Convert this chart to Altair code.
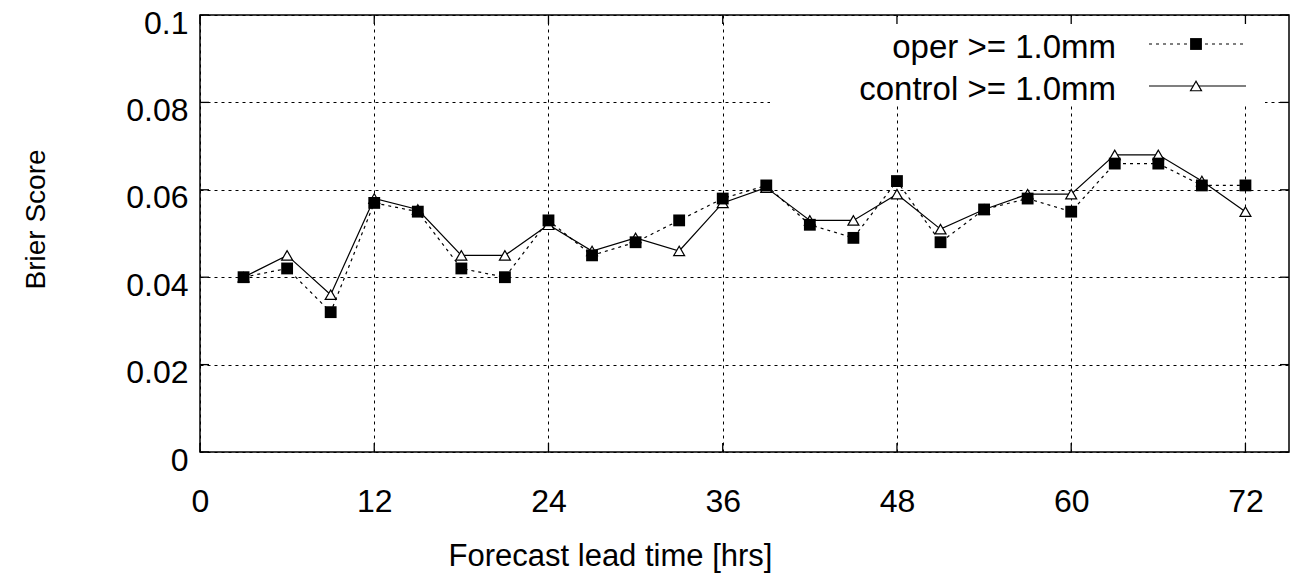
import altair as alt
import pandas as pd

# ---- data ----
lead_time = [3, 6, 9, 12, 15, 18, 21, 24, 27, 30, 33, 36,
             39, 42, 45, 48, 51, 54, 57, 60, 63, 66, 69, 72]
oper = [0.040, 0.042, 0.032, 0.057, 0.055, 0.042, 0.040, 0.053, 0.045, 0.048, 0.053, 0.058,
        0.061, 0.052, 0.049, 0.062, 0.048, 0.0555, 0.058, 0.055, 0.066, 0.066, 0.061, 0.061]
control = [0.040, 0.045, 0.036, 0.058, 0.0555, 0.045, 0.045, 0.052, 0.046, 0.049, 0.046, 0.057,
           0.0605, 0.053, 0.053, 0.059, 0.051, 0.0555, 0.059, 0.059, 0.068, 0.068, 0.062, 0.055]
series_labels = ["oper >= 1.0mm", "control >= 1.0mm"]
x_ticks = [0, 12, 24, 36, 48, 60, 72]
y_ticks = [0, 0.02, 0.04, 0.06, 0.08, 0.1]

W, H = 1089, 437
FONT = "Liberation Sans"
FS = 32

df_oper = pd.DataFrame({"t": lead_time, "v": oper})
df_ctrl = pd.DataFrame({"t": lead_time, "v": control})
df_xt = pd.DataFrame({"t": x_ticks})
df_yt = pd.DataFrame({"v": y_ticks})

xscale = alt.Scale(domain=[0, 75], nice=False, zero=False)
yscale = alt.Scale(domain=[0, 0.1], nice=False)

xaxis = alt.Axis(values=x_ticks, title="Forecast lead time [hrs]", grid=True,
                 gridDash=[3, 4], gridColor="black", gridOpacity=1, gridWidth=1,
                 ticks=False, domain=False, labelFont=FONT, labelFontSize=FS,
                 labelColor="black", labelPadding=34, labelFlush=False,
                 titleFont=FONT, titleFontSize=31, titleFontWeight="normal",
                 titleColor="black", titleX=410, titleY=104, titleAlign="center",
                 titleBaseline="middle")
yaxis = alt.Axis(values=y_ticks, title="Brier Score", grid=True, format="~g",
                 gridDash=[3, 4], gridColor="black", gridOpacity=1, gridWidth=1,
                 ticks=False, domain=False, labelFont=FONT, labelFontSize=FS,
                 labelColor="black", labelPadding=12, labelOffset=8, labelFlush=False,
                 titleFont=FONT, titleFontSize=28, titleFontWeight="normal",
                 titleColor="black", titleX=-164, titleY=204, titleAlign="center",
                 titleBaseline="middle")

X = alt.X("t:Q", scale=xscale, axis=xaxis)
Y = alt.Y("v:Q", scale=yscale, axis=yaxis)

# legend white box (hides grid lines behind the key)
key_box = alt.Chart(pd.DataFrame({"a": [0]})).mark_rect(fill="white").encode(
    x=alt.value(570), x2=alt.value(1065), y=alt.value(2), y2=alt.value(89))

# inward ticks
tick_style = dict(color="black", strokeWidth=1.3)
xt_bottom = alt.Chart(df_xt).mark_rule(**tick_style).encode(
    x=alt.X("t:Q", scale=xscale), y=alt.value(H), y2=alt.value(H - 9))
xt_top = alt.Chart(df_xt).mark_rule(**tick_style).encode(
    x=alt.X("t:Q", scale=xscale), y=alt.value(0), y2=alt.value(9))
yt_left = alt.Chart(df_yt).mark_rule(**tick_style).encode(
    y=alt.Y("v:Q", scale=yscale), x=alt.value(0), x2=alt.value(9))
yt_right = alt.Chart(df_yt).mark_rule(**tick_style).encode(
    y=alt.Y("v:Q", scale=yscale), x=alt.value(W - 9), x2=alt.value(W))

ctrl_line = alt.Chart(df_ctrl).mark_line(color="black", strokeWidth=1.2).encode(x=X, y=Y)
ctrl_pts = alt.Chart(df_ctrl).mark_point(shape="triangle-up", filled=True, fill="white",
                                         stroke="black", strokeWidth=1.2, size=120,
                                         opacity=1).encode(x=X, y=Y)
oper_line = alt.Chart(df_oper).mark_line(color="black", strokeWidth=1.2,
                                         strokeDash=[3, 4]).encode(x=X, y=Y)
oper_pts = alt.Chart(df_oper).mark_square(color="black", size=140, opacity=1).encode(x=X, y=Y)

# key
LX_TEXT = 916
LX1, LX2, LXM = 949, 1046, 996
rows = [29, 71]
key_layers = []
for i, lab in enumerate(series_labels):
    d = pd.DataFrame({"label": [lab]})
    key_layers.append(alt.Chart(d).mark_text(align="right", baseline="middle", font=FONT,
                                             fontSize=33, color="black").encode(
        text="label:N", x=alt.value(LX_TEXT), y=alt.value(rows[i] + 4)))
key_layers.append(alt.Chart(pd.DataFrame({"a": [0]})).mark_rule(
    color="black", strokeWidth=1.2, strokeDash=[3, 4]).encode(
    x=alt.value(LX1), x2=alt.value(LX2), y=alt.value(rows[0])))
key_layers.append(alt.Chart(pd.DataFrame({"a": [0]})).mark_square(
    color="black", size=140, opacity=1).encode(x=alt.value(LXM), y=alt.value(rows[0])))
key_layers.append(alt.Chart(pd.DataFrame({"a": [0]})).mark_rule(
    color="black", strokeWidth=1.2).encode(
    x=alt.value(LX1), x2=alt.value(LX2), y=alt.value(rows[1])))
key_layers.append(alt.Chart(pd.DataFrame({"a": [0]})).mark_point(
    shape="triangle-up", filled=True, fill="white", stroke="black", strokeWidth=1.2,
    size=120, opacity=1).encode(x=alt.value(LXM), y=alt.value(rows[1])))

chart = alt.layer(
    ctrl_line, key_box, xt_bottom, xt_top, yt_left, yt_right,
    ctrl_pts, oper_line, oper_pts, *key_layers
).properties(
    width=W, height=H,
    autosize=alt.AutoSizeParams(type="none"),
    padding={"left": 200, "top": 15, "right": 8, "bottom": 125},
    background="white",
).configure_view(stroke="black", strokeWidth=1.5)

chart.save("out.html", embed_options={"renderer": "svg", "actions": False})
